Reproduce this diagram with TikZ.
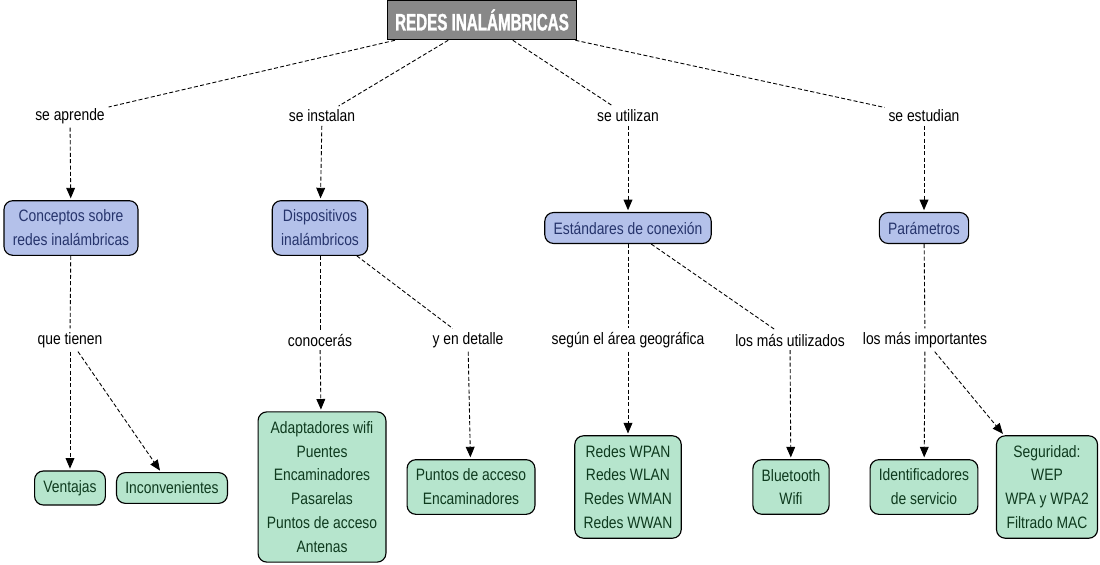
\documentclass[tikz,border=0pt]{standalone}
\usepackage{fontspec}
\setmainfont[FakeStretch=0.84]{Liberation Sans}
\newfontfamily\titlefont[FakeStretch=0.64,FakeBold=1.2]{Liberation Sans Bold}
\usetikzlibrary{arrows.meta}
\definecolor{titlegray}{RGB}{136,136,136}
\definecolor{bluefill}{RGB}{180,193,234}
\definecolor{bluetext}{RGB}{38,52,108}
\definecolor{greenfill}{RGB}{182,229,205}
\definecolor{greentext}{RGB}{14,58,30}

\begin{document}
\begin{tikzpicture}[x=0.02cm,y=-0.02cm,
        font=\fontsize{9.4}{13.6}\selectfont,
        titlebox/.style={draw, line width=0.9pt, fill=titlegray, text=white,
            font=\titlefont\fontsize{13.5}{15}\selectfont, minimum width=3.78cm, minimum height=0.78cm},
        bluebox/.style={draw, line width=0.65pt, rounded corners=5pt, fill=bluefill, text=bluetext,
            align=center, inner xsep=5pt, inner ysep=5.3pt},
        greenbox/.style={draw, line width=0.65pt, rounded corners=5pt, fill=greenfill, text=greentext,
            align=center, inner xsep=5pt, inner ysep=5.3pt},
        phrase/.style={inner sep=2pt},
        link/.style={line width=0.5pt, dash pattern=on 2.3pt off 1.3pt},
        arrowlink/.style={link, shorten >=1pt, -{Triangle[length=6pt,width=5pt]}}]
        \useasboundingbox (0,0) rectangle (1100,565);

        \node[titlebox] (redes) at (482,20) {REDES INALÁMBRICAS};

        \node[phrase] (aprende) at (70,116) {se aprende};
        \node[phrase] (instalan) at (322,116) {se instalan};
        \node[phrase] (utilizan) at (628,116) {se utilizan};
        \node[phrase] (estudian) at (924,116) {se estudian};

        \node[bluebox] (conceptos) at (71,228) {Conceptos sobre\\redes inalámbricas};
        \node[bluebox] (dispositivos) at (320,228) {Dispositivos\\inalámbricos};
        \node[bluebox] (estandares) at (628,228) {Estándares de conexión};
        \node[bluebox] (parametros) at (924,228) {Parámetros};

        \node[phrase] (tienen) at (70,340) {que tienen};
        \node[phrase] (conoceras) at (320,340) {conocerás};
        \node[phrase] (detalle) at (468,340) {y en detalle};
        \node[phrase] (area) at (628,340) {según el área geográfica};
        \node[phrase] (utilizados) at (790,340) {los más utilizados};
        \node[phrase] (importantes) at (925,340) {los más importantes};

        \node[greenbox] (ventajas) at (70,488) {Ventajas};
        \node[greenbox] (inconvenientes) at (172,488) {Inconvenientes};
        \node[greenbox] (adaptadores) at (322,487) {Adaptadores wifi\\Puentes\\Encaminadores\\Pasarelas\\Puntos de acceso\\Antenas};
        \node[greenbox] (puntos) at (471,487) {Puntos de acceso\\Encaminadores};
        \node[greenbox] (wpan) at (628,487) {Redes WPAN\\Redes WLAN\\Redes WMAN\\Redes WWAN};
        \node[greenbox] (bluetooth) at (791,487) {Bluetooth\\Wifi};
        \node[greenbox] (identificadores) at (924,487) {Identificadores\\de servicio};
        \node[greenbox] (seguridad) at (1047,487) {Seguridad:\\WEP\\WPA y WPA2\\Filtrado MAC};

        \draw[link] (redes) -- (aprende);
        \draw[link] (redes) -- (instalan);
        \draw[link] (redes) -- (utilizan);
        \draw[link] (redes) -- (estudian);
        \draw[arrowlink] (aprende) -- (conceptos);
        \draw[arrowlink] (instalan) -- (dispositivos);
        \draw[arrowlink] (utilizan) -- (estandares);
        \draw[arrowlink] (estudian) -- (parametros);

        \draw[link] (conceptos) -- (tienen);
        \draw[link] (dispositivos) -- (conoceras);
        \draw[link] (dispositivos) -- (detalle);
        \draw[link] (estandares) -- (area);
        \draw[link] (estandares) -- (utilizados);
        \draw[link] (parametros) -- (importantes);

        \draw[arrowlink] (tienen) -- (ventajas);
        \draw[arrowlink] (tienen) -- (inconvenientes);
        \draw[arrowlink] (conoceras) -- (adaptadores);
        \draw[arrowlink] (detalle) -- (puntos);
        \draw[arrowlink] (area) -- (wpan);
        \draw[arrowlink] (utilizados) -- (bluetooth);
        \draw[arrowlink] (importantes) -- (identificadores);
        \draw[arrowlink] (importantes) -- (seguridad);
      \end{tikzpicture}
\end{document}
